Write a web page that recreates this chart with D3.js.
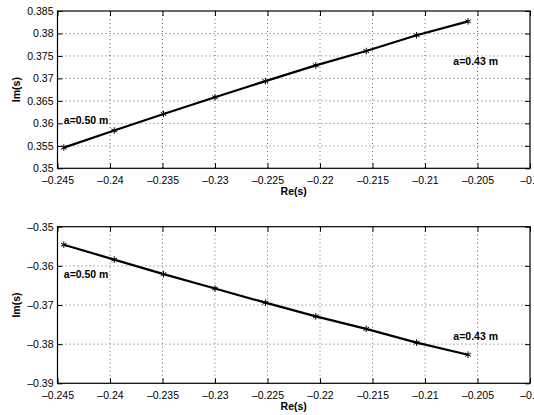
<!DOCTYPE html>
<html>
<head>
<meta charset="utf-8">
<script src="https://cdn.jsdelivr.net/npm/d3@7"></script>
<style>
  body { margin: 0; background: #fff; }
  svg { font-family: "Liberation Sans", Arial, sans-serif; }
</style>
</head>
<body>
<div id="chart"></div>
<script>
// real and imaginary parts of the root, a from 0.50 m down to 0.43 m
const reVals = [-0.2444, -0.2396, -0.2349, -0.2300, -0.2252, -0.2204, -0.2156, -0.2108, -0.2059];
const imVals = [0.3546, 0.3584, 0.3621, 0.3658, 0.3694, 0.3729, 0.3761, 0.3796, 0.3827];

const xTicks = [-0.245, -0.24, -0.235, -0.23, -0.225, -0.22, -0.215, -0.21, -0.205, -0.2];
const yTicksTop = [0.35, 0.355, 0.36, 0.365, 0.37, 0.375, 0.38, 0.385];
const yTicksBot = [-0.39, -0.38, -0.37, -0.36, -0.35];

const labelsTop = [
  {text: "a=0.50 m", x: -0.2444, y: 0.3607},
  {text: "a=0.43 m", x: -0.2073, y: 0.3739}
];
const labelsBot = [
  {text: "a=0.50 m", x: -0.2444, y: -0.3621},
  {text: "a=0.43 m", x: -0.2073, y: -0.3779}
];

const W = 534, H = 415;
const svg = d3.select("#chart").append("svg")
    .attr("width", W)
    .attr("height", H);

svg.append("rect").attr("width", W).attr("height", H).attr("fill", "#fff");

const fmt = d => (d < 0 ? "\u2013" : "") + String(Math.abs(d)).replace(/^0/, "0");

function panel(top, bottom, yDomain, yTicks, sign, labels) {
  const left = 57.5, right = 530;
  const x = d3.scaleLinear().domain([-0.245, -0.2]).range([left, right]);
  const y = d3.scaleLinear().domain(yDomain).range([bottom, top]);

  const g = svg.append("g");

  // grid
  g.append("g").selectAll("line")
    .data(xTicks.slice(1, -1))
    .join("line")
      .attr("x1", d => x(d)).attr("x2", d => x(d))
      .attr("y1", top).attr("y2", bottom)
      .attr("stroke", "#000").attr("stroke-width", 0.6)
      .attr("stroke-dasharray", "1,3");
  g.append("g").selectAll("line")
    .data(yTicks.slice(1, -1))
    .join("line")
      .attr("x1", left).attr("x2", right)
      .attr("y1", d => y(d)).attr("y2", d => y(d))
      .attr("stroke", "#000").attr("stroke-width", 0.6)
      .attr("stroke-dasharray", "1,3");

  // axes, ticks inward
  const tl = 5;
  g.append("g")
      .attr("transform", `translate(0,${bottom})`)
      .call(d3.axisBottom(x).tickValues(xTicks).tickSize(-tl).tickPadding(8).tickFormat(fmt))
      .call(a => a.select(".domain").remove())
      .call(a => a.selectAll("text").attr("font-size", 10.5).attr("fill", "#000"));
  g.append("g")
      .attr("transform", `translate(0,${top})`)
      .call(d3.axisTop(x).tickValues(xTicks).tickSize(-tl).tickFormat(""))
      .call(a => a.select(".domain").remove());
  g.append("g")
      .attr("transform", `translate(${left},0)`)
      .call(d3.axisLeft(y).tickValues(yTicks).tickSize(-tl).tickPadding(4).tickFormat(fmt))
      .call(a => a.select(".domain").remove())
      .call(a => a.selectAll("text").attr("font-size", 10.5).attr("fill", "#000"));
  g.append("g")
      .attr("transform", `translate(${right},0)`)
      .call(d3.axisRight(y).tickValues(yTicks).tickSize(-tl).tickFormat(""))
      .call(a => a.select(".domain").remove());

  g.append("rect")
      .attr("x", left).attr("y", top)
      .attr("width", right - left).attr("height", bottom - top)
      .attr("fill", "none").attr("stroke", "#000").attr("stroke-width", 1.2);

  // curve
  const pts = reVals.map((r, i) => [r, sign * imVals[i]]);
  g.append("path")
      .datum(pts)
      .attr("fill", "none")
      .attr("stroke", "#000")
      .attr("stroke-width", 2.2)
      .attr("d", d3.line().x(d => x(d[0])).y(d => y(d[1])));

  const star = d3.symbol().type(d3.symbolAsterisk).size(30);
  g.append("g").selectAll("path")
    .data(pts)
    .join("path")
      .attr("transform", d => `translate(${x(d[0])},${y(d[1])})`)
      .attr("d", star)
      .attr("stroke", "#000").attr("stroke-width", 1).attr("fill", "none");

  g.selectAll(".lbl")
    .data(labels)
    .join("text")
      .attr("class", "lbl")
      .attr("x", d => x(d.x))
      .attr("y", d => y(d.y))
      .attr("dy", "0.35em")
      .attr("font-size", 10.5).attr("font-weight", "bold")
      .text(d => d.text);

  g.append("text")
      .attr("x", (left + right) / 2)
      .attr("y", bottom + 27)
      .attr("text-anchor", "middle")
      .attr("font-size", 10.5).attr("font-weight", "bold")
      .text("Re(s)");
  g.append("text")
      .attr("transform", `translate(16,${(top + bottom) / 2}) rotate(-90)`)
      .attr("text-anchor", "middle")
      .attr("dy", "0.35em")
      .attr("font-size", 10.5).attr("font-weight", "bold")
      .text("Im(s)");
}

panel(11, 168.3, [0.35, 0.385], yTicksTop, 1, labelsTop);
panel(226.7, 383.3, [-0.39, -0.35], yTicksBot, -1, labelsBot);
</script>
</body>
</html>
